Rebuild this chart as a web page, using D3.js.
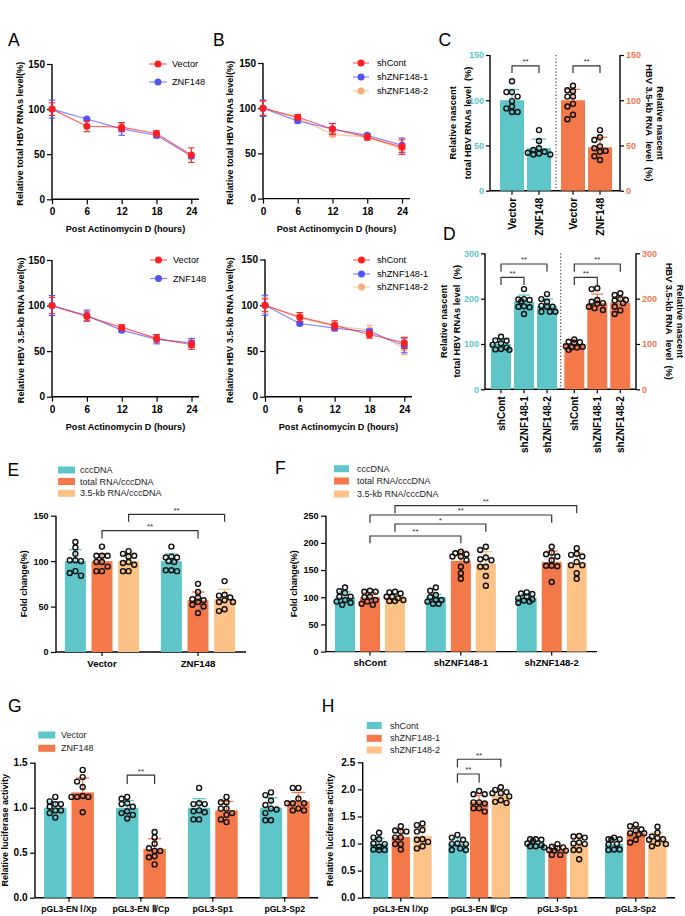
<!DOCTYPE html>
<html><head><meta charset="utf-8">
<script src="https://cdn.jsdelivr.net/npm/d3@7"></script>
<style>
body{margin:0;background:#fff;}
svg{display:block;font-family:"Liberation Sans",Arial,Helvetica,sans-serif;}
</style></head>
<body><svg id="chart" width="685" height="916"></svg>
<script>
// ---------------- DATA ----------------
const timePoints = [0, 6, 12, 18, 24];
const lineYTicks = [0, 50, 100, 150];

// A (top): total HBV RNAs
const aTotVector = [100, 81, 80, 73, 49];
const aTotVectorSD = [7, 6, 5, 3, 8];
const aTotZNF = [100, 89, 78, 71, 48];
const aTotZNFSD = [10, 1, 7, 3, 3];
// B (top): total HBV RNAs
const bTotShCont = [100, 90, 77, 68, 57];
const bTotShContSD = [8, 3, 6, 3, 8];
const bTotSh1 = [100, 86, 77, 70, 59];
const bTotSh1SD = [9, 2, 6, 2, 8];
const bTotSh2 = [100, 89, 71, 68, 55];
const bTotSh2SD = [8, 3, 2, 3, 6];
// A (bottom): 3.5-kb RNA
const a35Vector = [100, 88, 76, 64, 57];
const a35VectorSD = [9, 5, 3, 4, 5];
const a35ZNF = [100, 89, 73, 63, 59];
const a35ZNFSD = [11, 6, 2, 5, 5];
// B (bottom): 3.5-kb RNA
const b35ShCont = [100, 87, 78, 68, 59];
const b35ShContSD = [7, 5, 5, 4, 6];
const b35Sh1 = [100, 80, 75, 71, 56];
const b35Sh1SD = [11, 2, 3, 3, 8];
const b35Sh2 = [100, 86, 77, 73, 53];
const b35Sh2SD = [9, 4, 4, 5, 7];

// C
const cCats = ["Vector", "ZNF148"];
const cTicks = [0, 50, 100, 150];
const cTotMean = [100, 47];
const cTotSD = [12, 10];
const cTotDots = [[104, 87, 121, 109, 99, 93, 91, 109, 87], [67, 47, 42, 45, 55, 43, 41, 40, 40]];
const c35Mean = [100, 48];
const c35SD = [12, 11];
const c35Dots = [[110, 104, 111, 93, 84, 79, 116, 104, 96], [59, 67, 56, 44, 34, 47, 49, 43, 38]];

// D
const dCats = ["shCont", "shZNF148-1", "shZNF148-2"];
const dTicks = [0, 100, 200, 300];
const dTotMean = [100, 193, 184];
const dTotSD = [10, 15, 15];
const dTotDots = [[107, 116, 88, 87, 89, 101, 108, 92, 98], [221, 198, 199, 197, 194, 182, 183, 181, 166], [210, 193, 199, 184, 182, 182, 171, 171, 171]];
const d35Mean = [100, 190, 191];
const d35SD = [8, 20, 13];
const d35Dots = [[110, 105, 104, 103, 93, 92, 94, 95, 87], [221, 223, 197, 193, 190, 189, 182, 179, 175], [208, 212, 199, 197, 196, 182, 174, 166, 190]];

// E
const eGroups = ["Vector", "ZNF148"];
const eSeries = ["cccDNA", "total RNA/cccDNA", "3.5-kb RNA/cccDNA"];
const eTicks = [0, 50, 100, 150];
const eCccMean = [100, 100];
const eCccSD = [12.5, 8];
const eCccDots = [[121, 115, 108, 100, 101, 89, 84, 101, 87], [116, 105, 104, 104, 99, 90, 90, 89, 100]];
const eTotMean = [100, 57];
const eTotSD = [8, 9];
const eTotDots = [[116, 106, 106, 106, 99, 99, 94, 89, 89], [75, 66, 58, 57, 60, 50, 43, 55, 52]];
const e35Mean = [100, 58];
const e35SD = [7, 11];
const e35Dots = [[111, 106, 108, 105, 89, 96, 89, 99, 98], [78, 62, 63, 55, 55, 57, 45, 47, 60]];

// F
const fGroups = ["shCont", "shZNF148-1", "shZNF148-2"];
const fTicks = [0, 50, 100, 150, 200, 250];
const fCccMean = [100, 100, 99];
const fCccSD = [10, 5, 7];
const fCccDots = [[118, 111, 108, 101, 101, 95, 92, 86, 90], [118, 112, 104, 100, 95, 95, 88, 88, 92], [109, 101, 106, 96, 94, 98, 90, 92, 107]];
const fTotMean = [100, 167, 165];
const fTotSD = [9, 18, 20];
const fTotDots = [[110, 110, 112, 100, 101, 86, 88, 92, 95], [184, 181, 179, 175, 175, 168, 156, 144, 134], [193, 182, 179, 175, 158, 158, 157, 128, 168]];
const f35Mean = [100, 162, 163];
const f35SD = [2, 22, 19];
const f35Dots = [[109, 110, 107, 101, 101, 95, 93, 93, 98], [193, 187, 173, 170, 156, 139, 156, 121, 168], [190, 178, 180, 175, 165, 159, 159, 144, 134]];

// G
const gGroups = ["pGL3-EN \u2160/Xp", "pGL3-EN \u2161/Cp", "pGL3-Sp1", "pGL3-Sp2"];
const gSeries = ["Vector", "ZNF148"];
const gTicks = [0, 0.5, 1.0, 1.5];
const gVecMean = [1.0, 1.0, 1.0, 1.0];
const gVecSD = [0.067, 0.078, 0.1, 0.11];
const gVecDots = [[1.12, 1.07, 1.01, 0.89, 1.04, 1.04, 0.97, 0.97, 0.94], [1.10, 1.12, 1.05, 1.01, 0.94, 0.92, 0.88, 1.04, 0.96], [1.22, 1.04, 1.05, 1.04, 0.96, 0.97, 0.95, 0.87, 0.87], [1.14, 1.17, 0.98, 1.08, 1.03, 0.94, 0.86, 0.86, 0.99]];
const gZnfMean = [1.17, 0.54, 0.97, 1.07];
const gZnfSD = [0.16, 0.115, 0.1, 0.1];
const gZnfDots = [[1.42, 1.34, 1.29, 1.23, 1.12, 1.12, 1.13, 1.12, 0.95], [0.73, 0.67, 0.55, 0.60, 0.52, 0.52, 0.46, 0.37, 0.45], [1.12, 1.06, 1.06, 0.99, 0.99, 0.92, 0.94, 0.87, 0.84], [1.22, 1.22, 1.10, 1.05, 1.05, 1.05, 0.97, 0.97, 0.99]];

// H
const hGroups = gGroups;
const hSeries = ["shCont", "shZNF148-1", "shZNF148-2"];
const hTicks = [0, 0.5, 1.0, 1.5, 2.0, 2.5];
const hContMean = [1.0, 1.0, 1.0, 0.99];
const hContSD = [0.1, 0.1, 0.05, 0.08];
const hContDots = [[1.20, 1.11, 1.08, 0.99, 1.0, 0.94, 0.89, 0.88, 0.88], [1.16, 1.11, 1.07, 0.99, 1.0, 0.99, 0.88, 0.88, 0.91], [1.08, 1.05, 1.08, 1.07, 0.95, 0.93, 0.95, 1.0, 0.97], [1.11, 1.07, 1.08, 1.08, 0.89, 0.89, 0.88, 0.98, 0.99]];
const hSh1Mean = [1.12, 1.77, 0.89, 1.2];
const hSh1SD = [0.14, 0.12, 0.06, 0.11];
const hSh1Dots = [[1.32, 1.22, 1.22, 1.24, 1.11, 1.11, 0.99, 0.99, 0.89], [1.97, 1.91, 1.91, 1.76, 1.74, 1.76, 1.65, 1.59, 1.65], [0.99, 0.94, 0.93, 0.88, 0.87, 0.87, 0.79, 0.79, 0.91], [1.35, 1.32, 1.26, 1.24, 1.19, 1.19, 1.07, 1.02, 1.17]];
const hSh2Mean = [1.14, 1.89, 0.98, 1.09];
const hSh2SD = [0.17, 0.08, 0.14, 0.11];
const hSh2Dots = [[1.34, 1.37, 1.22, 1.25, 1.08, 1.07, 0.91, 0.95, 1.03], [2.04, 1.99, 1.93, 1.93, 1.95, 1.77, 1.75, 1.80, 1.87], [1.11, 1.13, 1.14, 0.99, 1.0, 0.88, 0.88, 0.71, 1.02], [1.31, 1.2, 1.13, 1.1, 1.08, 0.99, 1.0, 1.07, 0.95]];

// ---------------- STYLE ----------------
const RED = "#ff1f1f", BLUE = "#5252f5", PEACH = "#f4b07a";
const TEAL = "#5ec6c9", ORANGE = "#f3784a", LIGHT = "#fdc285";
const svg = d3.select("#chart");

function txt(g, x, y, s, o = {}) {
  const t = g.append("text").text(s)
    .attr("font-size", o.fs || 9).attr("font-weight", o.fw || "normal")
    .attr("text-anchor", o.anchor || "start").attr("fill", o.fill || "#000");
  if (o.rot != null) {
    t.attr("x", 0).attr("y", 0).attr("dy", o.dy || "0.35em")
      .attr("transform", `translate(${x},${y}) rotate(${o.rot})`);
  } else {
    t.attr("x", x).attr("y", y);
    if (o.dy) t.attr("dy", o.dy);
  }
  return t;
}
function hline(g, x1, x2, y, c = "#000", w = 1.4) {
  g.append("line").attr("x1", x1).attr("x2", x2).attr("y1", y).attr("y2", y).attr("stroke", c).attr("stroke-width", w);
}
function vline(g, x, y1, y2, c = "#000", w = 1.4) {
  g.append("line").attr("x1", x).attr("x2", x).attr("y1", y1).attr("y2", y2).attr("stroke", c).attr("stroke-width", w);
}
function styleAxis(sel, fs, color) {
  sel.select(".domain").remove();
  sel.selectAll(".tick line").attr("stroke", "#000").attr("stroke-width", 1.2);
  sel.selectAll(".tick text").attr("font-family", "Liberation Sans, Arial, sans-serif")
    .attr("font-size", fs).attr("font-weight", "bold").attr("fill", color || "#000");
}
function letter(t, x, y) {
  svg.append("text").attr("x", x).attr("y", y).attr("font-size", 17.5).text(t);
}

// ---------------- LINE CHARTS ----------------
function lineChart(o) {
  const g = svg.append("g");
  const x = d3.scaleLinear().domain([0, 24]).range([o.x0, o.x1]);
  const y = d3.scaleLinear().domain([0, 150]).range([o.yb, o.yt]);
  const ax = g.append("g").attr("transform", `translate(0,${o.yb})`)
    .call(d3.axisBottom(x).tickValues(timePoints).tickSize(5).tickPadding(4));
  styleAxis(ax, 10);
  const ay = g.append("g").attr("transform", `translate(${o.x0},0)`)
    .call(d3.axisLeft(y).tickValues(lineYTicks).tickSize(5).tickPadding(2));
  styleAxis(ay, 10);
  hline(g, o.x0, o.xEnd, o.yb);
  vline(g, o.x0, o.yb, o.yt);
  txt(g, o.ylabX, (o.yb + o.yt) / 2 + 2, o.ylabel, { fs: 9.2, fw: "bold", anchor: "middle", rot: -90 });
  txt(g, (o.x0 + o.xEnd) / 2, o.xlabY, "Post Actinomycin D (hours)", { fs: 9.1, fw: "bold", anchor: "middle" });
  const line = d3.line().x((d, i) => x(timePoints[i])).y(d => y(d));
  o.series.slice().reverse().forEach(s => {
    g.append("path").datum(s.values).attr("d", line).attr("fill", "none")
      .attr("stroke", s.color).attr("stroke-width", 1.2).attr("stroke-opacity", 0.7);
    s.values.forEach((v, i) => {
      const cx = x(timePoints[i]), t = y(v + s.sd[i]), b = y(v - s.sd[i]);
      vline(g, cx, t, b, s.color, 1.1);
      hline(g, cx - 3.3, cx + 3.3, t, s.color, 1.1);
      hline(g, cx - 3.3, cx + 3.3, b, s.color, 1.1);
    });
    g.selectAll(null).data(s.values).enter().append("circle")
      .attr("cx", (d, i) => x(timePoints[i])).attr("cy", d => y(d)).attr("r", 3.5).attr("fill", s.color);
  });
  o.series.forEach((s, i) => {
    const ly = o.legY[i];
    g.append("line").attr("x1", o.legX0).attr("x2", o.legX1).attr("y1", ly).attr("y2", ly)
      .attr("stroke", s.color).attr("stroke-width", 1.2).attr("stroke-opacity", 0.7);
    g.append("circle").attr("cx", (o.legX0 + o.legX1) / 2).attr("cy", ly).attr("r", 3.5).attr("fill", s.color);
    txt(g, o.legTX, ly, s.name, { fs: 9.2, dy: "0.35em" });
  });
}

lineChart({ x0: 52, x1: 191.3, xEnd: 199, yb: 199.3, yt: 64, ylabX: 20, xlabY: 232,
  ylabel: "Relative total HBV RNAs level(%)",
  series: [{ name: "Vector", values: aTotVector, sd: aTotVectorSD, color: RED },
           { name: "ZNF148", values: aTotZNF, sd: aTotZNFSD, color: BLUE }],
  legX0: 149, legX1: 167, legTX: 172, legY: [64, 82] });
lineChart({ x0: 263, x1: 402, xEnd: 410, yb: 198.6, yt: 63, ylabX: 230, xlabY: 232,
  ylabel: "Relative total HBV RNAs level(%)",
  series: [{ name: "shCont", values: bTotShCont, sd: bTotShContSD, color: RED },
           { name: "shZNF148-1", values: bTotSh1, sd: bTotSh1SD, color: BLUE },
           { name: "shZNF148-2", values: bTotSh2, sd: bTotSh2SD, color: PEACH }],
  legX0: 353, legX1: 369, legTX: 377, legY: [63, 77, 91] });
lineChart({ x0: 52, x1: 191.5, xEnd: 199, yb: 396.7, yt: 260, ylabX: 20.5, xlabY: 430,
  ylabel: "Relative HBV 3.5-kb RNA level(%)",
  series: [{ name: "Vector", values: a35Vector, sd: a35VectorSD, color: RED },
           { name: "ZNF148", values: a35ZNF, sd: a35ZNFSD, color: BLUE }],
  legX0: 150, legX1: 167, legTX: 173, legY: [260, 278.5] });
lineChart({ x0: 265, x1: 404.3, xEnd: 412, yb: 396.7, yt: 259.5, ylabX: 230, xlabY: 430,
  ylabel: "Relative HBV 3.5-kb RNA level(%)",
  series: [{ name: "shCont", values: b35ShCont, sd: b35ShContSD, color: RED },
           { name: "shZNF148-1", values: b35Sh1, sd: b35Sh1SD, color: BLUE },
           { name: "shZNF148-2", values: b35Sh2, sd: b35Sh2SD, color: PEACH }],
  legX0: 353, legX1: 370, legTX: 377, legY: [260, 274, 287] });

// ---------------- BAR HELPERS ----------------
function swarm(ys, bw) {
  const d = 5.6, minDist = 5.3;
  const order = d3.range(ys.length).sort((a, b) => ys[a] - ys[b]);
  const cands = [0, -d, d, -2 * d, 2 * d, -0.5 * d, 0.5 * d, -1.5 * d, 1.5 * d].filter(c => Math.abs(c) <= bw / 2);
  const placed = [], offs = new Array(ys.length);
  order.forEach(i => {
    let best = null, bestScore = -1;
    for (const c of cands) {
      const md = placed.length ? d3.min(placed, p => Math.hypot(p.x - c, p.y - ys[i])) : 99;
      if (md >= minDist) { best = c; break; }
      if (md > bestScore) { bestScore = md; best = c; }
    }
    offs[i] = best; placed.push({ x: best, y: ys[i] });
  });
  return offs;
}
function bar(g, cx, y, bw, mean, sd, dots, color) {
  g.append("rect").attr("x", cx - bw / 2).attr("y", y(mean)).attr("width", bw)
    .attr("height", y(0) - y(mean)).attr("fill", color);
  const t = y(mean + sd);
  vline(g, cx, y(mean), t, color, 1.3);
  hline(g, cx - bw * 0.3, cx + bw * 0.3, t, color, 1.3);
  const ys = dots.map(v => y(v));
  const offs = swarm(ys, bw);
  g.selectAll(null).data(dots).enter().append("circle")
    .attr("cx", (d, j) => cx + offs[j]).attr("cy", d => y(d)).attr("r", 2.5)
    .attr("fill", "none").attr("stroke", "#111").attr("stroke-width", 1.4);
}
function bracket(g, x1, x2, yTop, yLeg, label) {
  g.append("path").attr("d", `M${x1},${yLeg}V${yTop}H${x2}V${yLeg}`)
    .attr("fill", "none").attr("stroke", "#333").attr("stroke-width", 1.2);
  txt(g, (x1 + x2) / 2, yTop - 1.5, label, { fs: 8, anchor: "middle", fill: "#333" });
}
function bandAt(cats, c0, step, bw) {
  const p = 1 - bw / step;
  return d3.scaleBand().domain(cats).range([c0 - step / 2, c0 + (cats.length - 0.5) * step])
    .paddingInner(p).paddingOuter(p / 2);
}

// ---------------- C / D ----------------
function dualPanel(o) {
  const g = svg.append("g");
  const y = d3.scaleLinear().domain([0, o.ymax]).range([o.yb, o.yt]);
  const al = g.append("g").attr("transform", `translate(${o.xl},0)`)
    .call(d3.axisLeft(y).tickValues(o.ticks).tickSize(4).tickPadding(2));
  styleAxis(al, 9, TEAL);
  const ar = g.append("g").attr("transform", `translate(${o.xr},0)`)
    .call(d3.axisRight(y).tickValues(o.ticks).tickSize(4).tickPadding(2));
  styleAxis(ar, 9, ORANGE);
  vline(g, o.xl, o.yb, o.yt); vline(g, o.xr, o.yb, o.yt); hline(g, o.xl, o.xr, o.yb);
  g.append("line").attr("x1", o.sep).attr("x2", o.sep).attr("y1", o.yt).attr("y2", o.yb)
    .attr("stroke", "#444").attr("stroke-width", 1.1).attr("stroke-dasharray", "1.3,2");
  const xl = bandAt(o.cats, o.lc0, o.step, o.bw);
  const xr = bandAt(o.cats, o.rc0, o.step, o.bw);
  [[xl, o.lMean, o.lSD, o.lDots, TEAL], [xr, o.rMean, o.rSD, o.rDots, ORANGE]].forEach(([xs, m, sd, dots, col]) => {
    const ax = g.append("g").attr("transform", `translate(0,${o.yb})`)
      .call(d3.axisBottom(xs).tickSize(4).tickFormat(""));
    styleAxis(ax, 8.5);
    o.cats.forEach((c, i) => {
      const cx = xs(c) + xs.bandwidth() / 2;
      bar(g, cx, y, o.bw, m[i], sd[i], dots[i], col);
      txt(g, cx, o.yb + 7, c, { fs: o.xfs, fw: "bold", anchor: "end", rot: -90 });
    });
    o.brackets.forEach(b => {
      bracket(g, xs(o.cats[b[0]]) + xs.bandwidth() / 2, xs(o.cats[b[1]]) + xs.bandwidth() / 2, y(b[2]), y(b[3]), b[4]);
    });
  });
  const cy = (o.yb + o.yt) / 2;
  txt(g, o.lt1, cy, "Relative nascent", { fs: 9.3, fw: "bold", anchor: "middle", rot: -90 });
  txt(g, o.lt2, cy, "total HBV RNAs level\u00A0\u00A0(%)", { fs: 9.3, fw: "bold", anchor: "middle", rot: -90 });
  txt(g, o.rt1, cy, "Relative nascent", { fs: 9.3, fw: "bold", anchor: "middle", rot: 90 });
  txt(g, o.rt2, cy, "HBV 3.5-kb RNA\u00A0\u00A0level\u00A0\u00A0(%)", { fs: 9.3, fw: "bold", anchor: "middle", rot: 90 });
}
dualPanel({ xl: 490, xr: 620, yb: 190.7, yt: 55, ymax: 150, ticks: cTicks, sep: 556,
  cats: cCats, lc0: 512, rc0: 573, step: 27, bw: 24, xfs: 10.5,
  lMean: cTotMean, lSD: cTotSD, lDots: cTotDots, rMean: c35Mean, rSD: c35SD, rDots: c35Dots,
  brackets: [[0, 1, 138, 130, "**"]],
  lt1: 453, lt2: 467.5, rt1: 660, rt2: 649 });
dualPanel({ xl: 485, xr: 636, yb: 389.3, yt: 253.3, ymax: 300, ticks: dTicks, sep: 560.7,
  cats: dCats, lc0: 501, rc0: 574.3, step: 23, bw: 20, xfs: 10,
  lMean: dTotMean, lSD: dTotSD, lDots: dTotDots, rMean: d35Mean, rSD: d35SD, rDots: d35Dots,
  brackets: [[0, 1, 247, 230, "**"], [0, 2, 276.4, 259.4, "**"]],
  lt1: 444, lt2: 456.5, rt1: 680.5, rt2: 669.5 });

// ---------------- GROUPED BARS ----------------
function grouped(o) {
  const g = svg.append("g");
  const y = d3.scaleLinear().domain([0, o.ymax]).range([o.yb, o.yt]);
  const x0 = d3.scaleBand().domain(o.groups).range([o.gc0 - o.gstep / 2, o.gc0 + (o.groups.length - 0.5) * o.gstep]);
  const ns = o.series.length;
  const p = 1 - o.bw / o.sstep;
  const x1 = d3.scaleBand().domain(d3.range(ns)).range([-ns * o.sstep / 2, ns * o.sstep / 2]).paddingInner(p).paddingOuter(p / 2);
  const ay = g.append("g").attr("transform", `translate(${o.xa},0)`)
    .call(d3.axisLeft(y).tickValues(o.ticks).tickSize(5).tickPadding(2.5).tickFormat(o.fmt || d3.format("d")));
  styleAxis(ay, o.tfs);
  const ax = g.append("g").attr("transform", `translate(0,${o.yb})`)
    .call(d3.axisBottom(x0).tickSize(4).tickPadding(4));
  styleAxis(ax, o.xfs);
  vline(g, o.xa, o.yb, o.yt); hline(g, o.xa, o.xEnd, o.yb);
  const cx = (gi, si) => x0(o.groups[gi]) + x0.bandwidth() / 2 + x1(si) + x1.bandwidth() / 2;
  o.series.forEach((s, si) => {
    o.groups.forEach((gr, gi) => bar(g, cx(gi, si), y, o.bw, s.mean[gi], s.sd[gi], s.dots[gi], s.color));
  });
  o.brackets.forEach(b => bracket(g, cx(b[0], b[1]), cx(b[2], b[3]), y(b[4]), y(b[5]), b[6]));
  txt(g, o.ylabX, (o.yb + o.yt) / 2, o.ylabel, { fs: 9, fw: "bold", anchor: "middle", rot: -90 });
  o.series.forEach((s, i) => {
    const ly = o.legY[i];
    g.append("rect").attr("x", o.legX).attr("y", ly - 3.5).attr("width", o.legW).attr("height", 7).attr("fill", s.color);
    txt(g, o.legTX, ly, s.name, { fs: 9, dy: "0.35em", fill: "#222" });
  });
}
grouped({ ymax: 150, yb: 652, yt: 515.7, ticks: eTicks, xa: 56, xEnd: 246, tfs: 9, xfs: 9.6,
  groups: eGroups, gc0: 102, gstep: 96, sstep: 26.6, bw: 21,
  series: [{ name: eSeries[0], mean: eCccMean, sd: eCccSD, dots: eCccDots, color: TEAL },
           { name: eSeries[1], mean: eTotMean, sd: eTotSD, dots: eTotDots, color: ORANGE },
           { name: eSeries[2], mean: e35Mean, sd: e35SD, dots: e35Dots, color: LIGHT }],
  brackets: [[0, 1, 1, 1, 133.5, 125, "**"], [0, 2, 1, 2, 151.5, 143.4, "**"]],
  ylabel: "Fold change(%)", ylabX: 24,
  legX: 58, legW: 17, legTX: 80, legY: [470, 481.5, 493.3] });
grouped({ ymax: 250, yb: 651.6, yt: 515.7, ticks: fTicks, xa: 326, xEnd: 597, tfs: 9, xfs: 9.6,
  groups: fGroups, gc0: 370, gstep: 90.85, sstep: 25, bw: 20,
  series: [{ name: eSeries[0], mean: fCccMean, sd: fCccSD, dots: fCccDots, color: TEAL },
           { name: eSeries[1], mean: fTotMean, sd: fTotSD, dots: fTotDots, color: ORANGE },
           { name: eSeries[2], mean: f35Mean, sd: f35SD, dots: f35Dots, color: LIGHT }],
  brackets: [[0, 1, 1, 1, 212.7, 199.2, "**"], [0, 2, 1, 2, 234.7, 220.6, "*"],
             [0, 1, 2, 1, 251.3, 237.1, "**"], [0, 2, 2, 2, 268.4, 254.4, "**"]],
  ylabel: "Fold change(%)", ylabX: 294,
  legX: 334, legW: 15, legTX: 357, legY: [468.7, 481, 494] });
grouped({ ymax: 1.5, yb: 897.7, yt: 762.7, ticks: gTicks, xa: 35, xEnd: 318, fmt: d3.format(".1f"), tfs: 10, xfs: 8.6,
  groups: gGroups, gc0: 69, gstep: 71.9, sstep: 27.4, bw: 22.4,
  series: [{ name: gSeries[0], mean: gVecMean, sd: gVecSD, dots: gVecDots, color: TEAL },
           { name: gSeries[1], mean: gZnfMean, sd: gZnfSD, dots: gZnfDots, color: ORANGE }],
  brackets: [[1, 0, 1, 1, 1.363, 1.263, "**"]],
  ylabel: "Relative luciferase activity", ylabX: 4.8,
  legX: 38.3, legW: 17, legTX: 61, legY: [735, 748.3] });
grouped({ ymax: 2.5, yb: 897.7, yt: 762.3, ticks: hTicks, xa: 362.7, xEnd: 675, fmt: d3.format(".1f"), tfs: 10, xfs: 8.6,
  groups: hGroups, gc0: 400.8, gstep: 78.33, sstep: 21.7, bw: 18.3,
  series: [{ name: hSeries[0], mean: hContMean, sd: hContSD, dots: hContDots, color: TEAL },
           { name: hSeries[1], mean: hSh1Mean, sd: hSh1SD, dots: hSh1Dots, color: ORANGE },
           { name: hSeries[2], mean: hSh2Mean, sd: hSh2SD, dots: hSh2Dots, color: LIGHT }],
  brackets: [[1, 0, 1, 1, 2.284, 2.124, "**"], [1, 0, 1, 2, 2.556, 2.408, "**"]],
  ylabel: "Relative luciferase activity", ylabX: 330,
  legX: 366.7, legW: 15, legTX: 390, legY: [725.5, 738.3, 750] });

// ---------------- PANEL LETTERS ----------------
letter("A", 8, 45.7); letter("B", 213, 45.7); letter("C", 438.5, 46);
letter("D", 443, 240); letter("E", 7.5, 476); letter("F", 275, 473.5);
letter("G", 8, 711.5); letter("H", 321.7, 711.5);
</script></body></html>
